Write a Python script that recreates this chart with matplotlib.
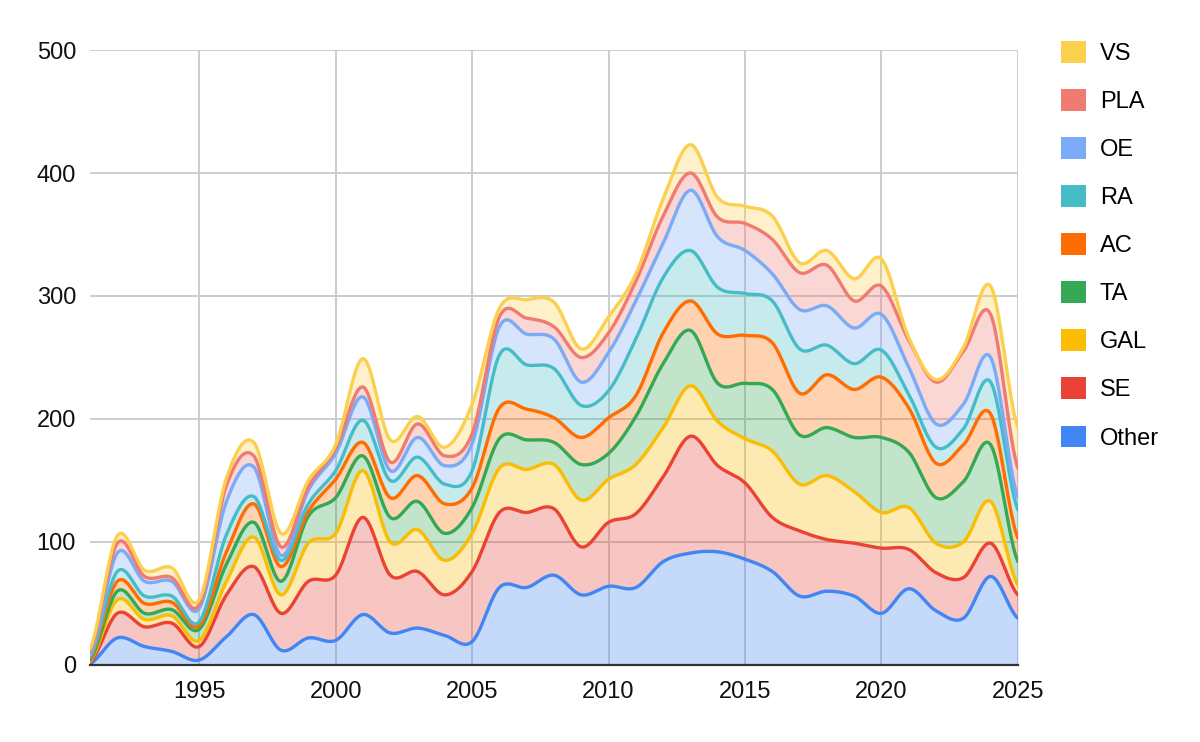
import numpy as np
import matplotlib
matplotlib.use("Agg")
import matplotlib.pyplot as plt
from matplotlib.patches import Patch

plt.rcParams['font.family'] = ['Liberation Sans', 'DejaVu Sans']

years = list(range(1991, 2026))

# values per series (bottom of the stack first)
other = [1, 22, 15, 11, 4, 23, 41, 12, 22, 20, 41, 26, 30, 24, 19,
         63, 63, 73, 57, 64, 63, 84, 91, 92, 86,
         76, 56, 60, 56, 42, 62, 44, 38, 72, 38]
se = [1, 20, 16, 23, 11, 34, 39, 30, 46, 53, 79, 47, 46, 33, 57,
      61, 61, 54, 39, 52, 60, 69, 95, 70, 62,
      44, 53, 42, 43, 53, 32, 31, 33, 27, 19]
gal = [1, 11, 6, 6, 5, 11, 24, 15, 31, 34, 38, 27, 34, 28, 31,
       36, 35, 36, 38, 35, 40, 40, 41, 36, 36,
       54, 38, 52, 42, 29, 34, 24, 29, 34, 8]
ta = [1, 7, 5, 5, 9, 14, 12, 11, 22, 29, 12, 20, 23, 22, 21,
      24, 24, 18, 29, 21, 39, 52, 45, 31, 45,
      50, 40, 39, 44, 61, 45, 37, 49, 46, 19]
ac = [2, 8, 8, 6, 3, 10, 15, 12, 4, 15, 11, 16, 21, 24, 16,
      25, 25, 20, 22, 29, 17, 25, 24, 40, 39,
      38, 34, 43, 39, 49, 36, 28, 30, 25, 19]
ra = [1, 8, 6, 5, 3, 14, 6, 5, 6, 7, 18, 14, 15, 16, 14,
      43, 36, 40, 26, 22, 46, 45, 41, 38, 34,
      34, 36, 24, 21, 22, 11, 13, 13, 26, 23]
oe = [1, 15, 12, 12, 11, 27, 24, 4, 11, 14, 19, 8, 16, 15, 22,
      23, 25, 24, 19, 31, 31, 28, 49, 41, 35,
      22, 32, 32, 29, 29, 22, 19, 20, 20, 10]
pla = [3, 8, 4, 3, 3, 13, 9, 7, 3, 4, 8, 7, 11, 8, 8,
       8, 13, 10, 20, 16, 16, 22, 14, 16, 22,
       28, 30, 33, 22, 23, 22, 34, 43, 35, 24]
vs = [2, 6, 5, 8, 4, 6, 11, 11, 5, 3, 23, 18, 6, 7, 24,
      7, 15, 20, 7, 13, 6, 14, 23, 16, 14,
      19, 8, 12, 18, 22, 2, 2, 3, 23, 33]

names = ['Other', 'SE', 'GAL', 'TA', 'AC', 'RA', 'OE', 'PLA', 'VS']
series = [other, se, gal, ta, ac, ra, oe, pla, vs]
colors = ['#4285F4', '#EA4335', '#FBBC04', '#34A853', '#FF6D01',
          '#46BDC6', '#7BAAF7', '#F07B72', '#FCD04F']


def smooth(x, y, n=24):
    # catmull-rom style curve through every point, like the "function" curve
    x = np.asarray(x, float)
    y = np.asarray(y, float)
    xp = np.concatenate([[x[0]], x, [x[-1]]])
    yp = np.concatenate([[y[0]], y, [y[-1]]])
    xs, ys = [], []
    t = np.linspace(0, 1, n, endpoint=False)
    for i in range(1, len(xp) - 2):
        p0, p1, p2, p3 = yp[i - 1], yp[i], yp[i + 1], yp[i + 2]
        c1 = p1 + (p2 - p0) / 6
        c2 = p2 - (p3 - p1) / 6
        b = ((1 - t) ** 3 * p1 + 3 * (1 - t) ** 2 * t * c1
             + 3 * (1 - t) * t ** 2 * c2 + t ** 3 * p2)
        xs.append(xp[i] + (xp[i + 1] - xp[i]) * t)
        ys.append(b)
    xs.append([x[-1]])
    ys.append([y[-1]])
    return np.concatenate(xs), np.concatenate(ys)


fig = plt.figure(figsize=(12, 7.42), dpi=100)
ax = fig.add_axes([0.075, 0.1038, 0.7733, 0.8288])

cum = np.cumsum(np.array(series, float), axis=0)
curves = [smooth(years, c) for c in cum]
xs = curves[0][0]
prev = np.zeros_like(xs)
for (cx, cy), col in zip(curves, colors):
    ax.fill_between(cx, prev, cy, color=col, alpha=0.3, lw=0, zorder=2)
    prev = cy
for (cx, cy), col in zip(curves, colors):
    ax.plot(cx, cy, color=col, lw=2.4, zorder=3, solid_capstyle='round')

ax.set_xlim(1991, 2025)
ax.set_ylim(0, 500)
ax.set_yticks(range(0, 501, 100))
ax.set_xticks(range(1995, 2026, 5))
ax.grid(True, color='#cccccc', lw=1.4, zorder=0)
ax.set_axisbelow(True)
for s in ['top', 'right', 'left']:
    ax.spines[s].set_visible(False)
ax.spines['bottom'].set_color('#333333')
ax.spines['bottom'].set_linewidth(1.6)
ax.spines['bottom'].set_zorder(4)
ax.tick_params(length=0, labelsize=17, colors='#111111')
ax.tick_params(axis='x', pad=11.5)
ax.tick_params(axis='y', pad=10)

handles = [Patch(facecolor=c, edgecolor='none') for c in colors[::-1]]
fig.legend(handles, names[::-1], loc='upper left',
           bbox_to_anchor=(0.884, 0.945), frameon=False, fontsize=17,
           handlelength=1.05, handleheight=1.05, handletextpad=0.6,
           labelspacing=1.02, borderpad=0, borderaxespad=0)

fig.savefig('out.png', dpi=100)
